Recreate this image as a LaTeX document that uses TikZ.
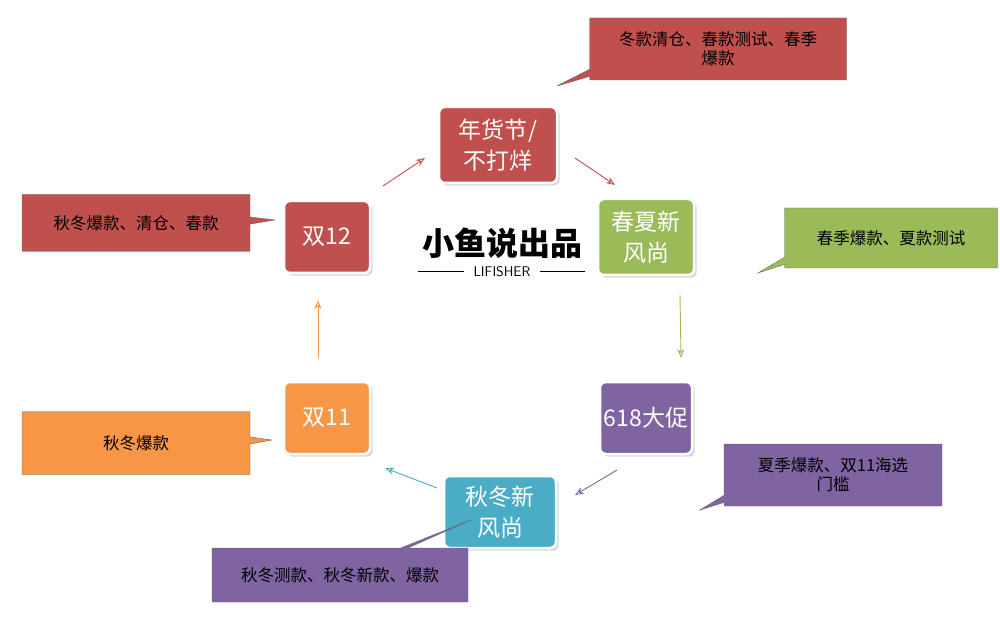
\documentclass[tikz,border=0pt]{standalone}
\usepackage{fontspec}
\setmainfont{Noto Sans CJK SC}
\usetikzlibrary{shapes.callouts, shadows, arrows.meta}
\definecolor{cred}{HTML}{C0504D}
\definecolor{cgreen}{HTML}{9BBB59}
\definecolor{cpurple}{HTML}{8064A2}
\definecolor{cteal}{HTML}{4BACC6}
\definecolor{corange}{HTML}{F79646}
\tikzset{
  stage/.style={rounded corners=6pt, draw=white, line width=2.5pt, text=white,
    font=\fontsize{23}{31}\selectfont, align=center, drop shadow={opacity=0.3}},
  note/.style={rectangle callout, draw=black!60, align=center,
    font=\fontsize{16.5}{19}\selectfont, inner sep=0pt},
  flow/.style={-{Stealth[length=9pt, width=7pt, open]}, line width=0.9pt}
}
\begin{document}
\begin{tikzpicture}[x=1pt,y=-1pt]
  \useasboundingbox (0,0) rectangle (1000,617);

  % stages
  \node[stage, fill=cred, minimum width=118pt, minimum height=76pt] (nian) at (498,145) {年货节/\\不打烊};
  \node[stage, fill=cgreen, minimum width=96pt, minimum height=76pt] (chunxia) at (646,237) {春夏新\\风尚};
  \node[stage, fill=cpurple, minimum width=92pt, minimum height=72pt] (cu) at (646,418) {618大促};
  \node[stage, fill=cteal, minimum width=112pt, minimum height=72pt] (qiudong) at (500,512) {秋冬新\\风尚};
  \node[stage, fill=corange, minimum width=86pt, minimum height=72pt] (s11) at (327,418) {双11};
  \node[stage, fill=cred, minimum width=86pt, minimum height=72pt] (s12) at (327,237) {双12};

  % logo
  \node[font=\fontsize{32}{34}\selectfont\bfseries] (logo) at (502,243) {小鱼说出品};
  \node[font=\sffamily\fontsize{14}{15}\selectfont] (lif) at (502,272) {LIFISHER};
  \draw[line width=1pt] (418,272) -- ([xshift=-6pt]lif.west);
  \draw[line width=1pt] ([xshift=6pt]lif.east) -- (585,272);

  % arrows
  \draw[flow, cred] (383,186) -- (425,158);
  \draw[flow, cred] (575,158) -- (615,185);
  \draw[flow, cgreen] (680,295) -- (681,358);
  \draw[flow, cpurple] (617,470) -- (575,495);
  \draw[flow, cteal] (437,488) -- (385,468);
  \draw[flow, corange] (318,358) -- (318,300);

  % notes
  \node[note, fill=cred, minimum width=257pt, minimum height=62pt,
    callout absolute pointer={(557,86)}] (n1) at (718,49) {冬款清仓、春款测试、春季\\爆款};
  \node[note, fill=cgreen, minimum width=213pt, minimum height=60pt,
    callout absolute pointer={(758,273)}] (n2) at (891,238) {春季爆款、夏款测试};
  \node[note, fill=cred, minimum width=228pt, minimum height=57pt,
    callout absolute pointer={(275,220)}] (n3) at (136,223) {秋冬爆款、清仓、春款};
  \node[note, fill=corange, minimum width=228pt, minimum height=63pt,
    callout absolute pointer={(272,440)}] (n4) at (136,443) {秋冬爆款};
  \node[note, fill=cpurple, minimum width=218pt, minimum height=62pt,
    callout absolute pointer={(700,510)}] (n5) at (833,475) {夏季爆款、双11海选\\门槛};
  \node[note, fill=cpurple, minimum width=256pt, minimum height=54pt,
    callout absolute pointer={(471,520)}] (n6) at (340,575) {秋冬测款、秋冬新款、爆款};
\end{tikzpicture}
\end{document}
